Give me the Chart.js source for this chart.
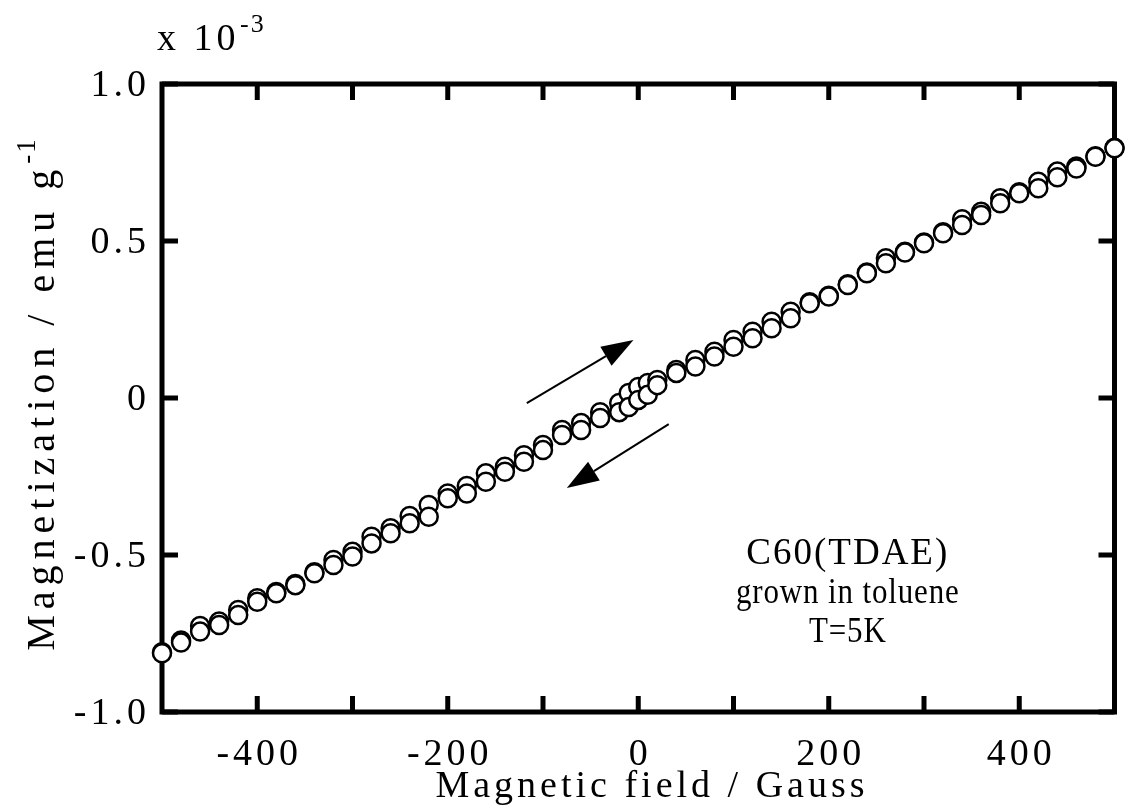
<!DOCTYPE html>
<html lang="en">
<head>
<meta charset="utf-8">
<title>C60(TDAE) magnetization</title>
<script src="https://cdn.jsdelivr.net/npm/chart.js@4.4.0/dist/chart.umd.min.js"></script>
<style>
  body { margin: 0; background: #fff; }
</style>
</head>
<body>
<canvas id="myChart" width="1126" height="809"></canvas>
<script>
  // field in Gauss, magnetization in 1e-3 emu/g
  const field = [-500, -480, -460, -440, -420, -400, -380, -360, -340, -320, -300, -280, -260, -240, -220, -200, -180, -160, -140, -120, -100, -80, -60, -40, -20, -10, 0, 10, 20, 40, 60, 80, 100, 120, 140, 160, 180, 200, 220, 240, 260, 280, 300, 320, 340, 360, 380, 400, 420, 440, 460, 480, 500];
  const magUpper = [-0.810, -0.772, -0.726, -0.712, -0.675, -0.638, -0.618, -0.592, -0.555, -0.516, -0.490, -0.442, -0.415, -0.376, -0.341, -0.304, -0.280, -0.240, -0.219, -0.182, -0.150, -0.102, -0.080, -0.045, -0.016, 0.016, 0.035, 0.048, 0.057, 0.089, 0.121, 0.147, 0.185, 0.211, 0.243, 0.275, 0.305, 0.326, 0.362, 0.400, 0.445, 0.466, 0.495, 0.528, 0.569, 0.593, 0.636, 0.655, 0.689, 0.721, 0.737, 0.770, 0.797];
  const magLower = [-0.813, -0.779, -0.744, -0.723, -0.691, -0.649, -0.622, -0.596, -0.558, -0.532, -0.505, -0.463, -0.431, -0.399, -0.378, -0.319, -0.304, -0.267, -0.235, -0.203, -0.166, -0.118, -0.102, -0.064, -0.045, -0.029, -0.006, 0.010, 0.041, 0.080, 0.100, 0.132, 0.163, 0.190, 0.222, 0.254, 0.302, 0.323, 0.360, 0.397, 0.429, 0.463, 0.493, 0.525, 0.551, 0.583, 0.620, 0.652, 0.668, 0.703, 0.731, 0.768, 0.795];

  const xTickMarks = [-400, -300, -200, -100, 0, 100, 200, 300, 400];
  const xTickLabels = [-400, -200, 0, 200, 400];
  const yTickMarks = [-1.0, -0.5, 0, 0.5, 1.0];
  const yTickLabels = ['1.0', '0.5', '0', '-0.5', '-1.0'];
  const yTickValues = [1.0, 0.5, 0, -0.5, -1.0];

  // arrows in data units [field, magnetization]
  const arrows = [
    { from: [-117, -0.016], to: [-5, 0.185] },
    { from: [32, -0.083], to: [-75, -0.287] }
  ];
  const noteLines = ['C60(TDAE)', 'grown in toluene', 'T=5K'];
  const noteX = 220;
  const noteY = [-0.530, -0.652, -0.776];

  const FONT = '"Liberation Serif", "Times New Roman", serif';

  const decor = {
    id: 'decor',
    beforeDatasetsDraw(chart) {
      const { ctx, chartArea: a, scales: { x, y } } = chart;
      ctx.save();
      ctx.strokeStyle = '#000';
      ctx.lineWidth = 5;
      ctx.strokeRect(a.left, a.top, a.right - a.left, a.bottom - a.top);
      ctx.beginPath();
      xTickMarks.forEach(v => {
        const p = x.getPixelForValue(v);
        ctx.moveTo(p, a.bottom); ctx.lineTo(p, a.bottom - 16);
        ctx.moveTo(p, a.top); ctx.lineTo(p, a.top + 16);
      });
      yTickMarks.forEach(v => {
        const p = y.getPixelForValue(v);
        ctx.moveTo(a.left, p); ctx.lineTo(a.left + 16, p);
        ctx.moveTo(a.right, p); ctx.lineTo(a.right - 16, p);
      });
      ctx.stroke();
      ctx.restore();
    },
    afterDraw(chart) {
      const { ctx, chartArea: a, scales: { x, y } } = chart;
      ctx.save();
      ctx.fillStyle = '#000';
      ctx.strokeStyle = '#000';
      ctx.font = '38px ' + FONT;
      ctx.letterSpacing = '4px';

      // tick labels
      ctx.textAlign = 'center';
      ctx.textBaseline = 'alphabetic';
      xTickLabels.forEach(v => {
        ctx.fillText(String(v), x.getPixelForValue(v) + 2, 765);
      });
      ctx.textAlign = 'right';
      ctx.textBaseline = 'middle';
      yTickValues.forEach((v, i) => {
        ctx.fillText(yTickLabels[i], a.left - 12, y.getPixelForValue(v) + 2);
      });

      // x title
      ctx.textAlign = 'center';
      ctx.textBaseline = 'alphabetic';
      ctx.fillText('Magnetic field / Gauss', 652, 797);

      // multiplier
      ctx.textAlign = 'left';
      ctx.fillText('x 10', 157, 50);
      ctx.font = '26px ' + FONT;
      ctx.letterSpacing = '2px';
      ctx.fillText('-3', 240, 32);

      // y title (rotated)
      ctx.save();
      ctx.translate(54, 394);
      ctx.rotate(-Math.PI / 2);
      ctx.font = '40px ' + FONT;
      ctx.letterSpacing = '6px';
      const main = 'Magnetization / emu g';
      const mainW = ctx.measureText(main).width;
      ctx.font = '27px ' + FONT;
      ctx.letterSpacing = '2px';
      const supW = ctx.measureText('-1').width;
      const start = -(mainW + supW) / 2;
      ctx.textAlign = 'left';
      ctx.fillText('-1', start + mainW, -19);
      ctx.font = '40px ' + FONT;
      ctx.letterSpacing = '6px';
      ctx.fillText(main, start, 0);
      ctx.restore();

      // note, drawn a little condensed
      ctx.textAlign = 'center';
      const noteStyle = [
        { size: 37, spacing: 2, sx: 1 },
        { size: 36, spacing: 1, sx: 0.86 },
        { size: 36, spacing: 1, sx: 0.86 }
      ];
      noteLines.forEach((t, i) => {
        const st = noteStyle[i];
        ctx.save();
        ctx.font = st.size + 'px ' + FONT;
        ctx.letterSpacing = st.spacing + 'px';
        ctx.translate(x.getPixelForValue(noteX), y.getPixelForValue(noteY[i]));
        ctx.scale(st.sx, 1);
        ctx.fillText(t, 0, 0);
        ctx.restore();
      });

      // arrows
      arrows.forEach(ar => {
        const x0 = x.getPixelForValue(ar.from[0]), y0 = y.getPixelForValue(ar.from[1]);
        const x1 = x.getPixelForValue(ar.to[0]), y1 = y.getPixelForValue(ar.to[1]);
        const ang = Math.atan2(y1 - y0, x1 - x0);
        const hl = 32, hw = 11;
        const bx = x1 - hl * Math.cos(ang), by = y1 - hl * Math.sin(ang);
        ctx.lineWidth = 2;
        ctx.beginPath();
        ctx.moveTo(x0, y0); ctx.lineTo(bx, by);
        ctx.stroke();
        ctx.beginPath();
        ctx.moveTo(x1, y1);
        ctx.lineTo(bx + hw * Math.sin(ang), by - hw * Math.cos(ang));
        ctx.lineTo(bx - hw * Math.sin(ang), by + hw * Math.cos(ang));
        ctx.closePath();
        ctx.fill();
      });
      ctx.restore();
    }
  };

  const pointStyle = {
    showLine: false,
    pointRadius: 9,
    pointBorderWidth: 2.5,
    pointBorderColor: '#000',
    pointBackgroundColor: '#fff',
    clip: false
  };

  const ctx = document.getElementById('myChart').getContext('2d');
  const myChart = new Chart(ctx, {
    type: 'scatter',
    data: {
      datasets: [
        Object.assign({ label: 'lower', data: field.map((f, i) => ({ x: f, y: magLower[i] })) }, pointStyle),
        Object.assign({ label: 'upper', data: field.map((f, i) => ({ x: f, y: magUpper[i] })) }, pointStyle)
      ]
    },
    options: {
      responsive: false,
      animation: false,
      layout: { padding: { top: 84, right: 9, left: 0, bottom: 0 } },
      plugins: { legend: { display: false }, tooltip: { enabled: false } },
      scales: {
        x: {
          type: 'linear', min: -500, max: 500,
          grid: { display: false }, border: { display: false }, ticks: { display: false },
          afterFit: s => { s.height = 97; }
        },
        y: {
          type: 'linear', min: -1, max: 1,
          grid: { display: false }, border: { display: false }, ticks: { display: false },
          afterFit: s => { s.width = 162; }
        }
      }
    },
    plugins: [decor]
  });
</script>
</body>
</html>
